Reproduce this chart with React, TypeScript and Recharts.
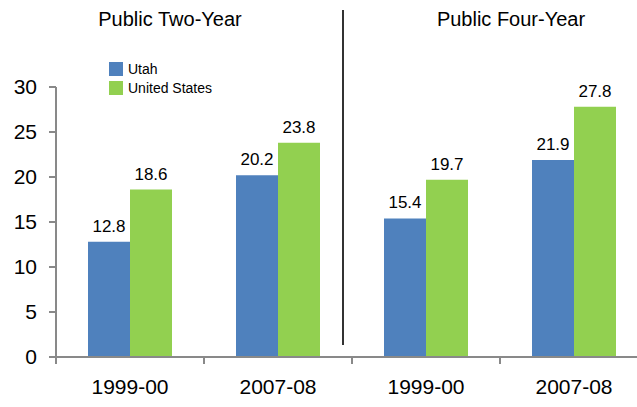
import { Bar, BarChart, LabelList, XAxis, YAxis } from 'recharts'

const categories = ['1999-00', '2007-08', '1999-00', '2007-08']
const utah = [12.8, 20.2, 15.4, 21.9]
const unitedStates = [18.6, 23.8, 19.7, 27.8]
const yTicks = [0, 5, 10, 15, 20, 25, 30]
const groupTitles = ['Public Two-Year', 'Public Four-Year']

const series = [
  { key: 'utah', name: 'Utah', color: '#4F81BD' },
  { key: 'us', name: 'United States', color: '#92D050' }
]

const data = categories.map((name, i) => ({ name, utah: utah[i], us: unitedStates[i] }))

const FONT = '"Liberation Sans", Arial, sans-serif'
const AXIS = '#898989'

function CategoryTick(props: any) {
  const { x, payload } = props
  const half = 74
  return (
    <g>
      <line x1={x - half} x2={x - half} y1={357} y2={364} stroke={AXIS} strokeWidth={2} />
      <text x={x} y={394} textAnchor="middle" fill="#000" fontSize={21} fontFamily={FONT}>
        {payload.value}
      </text>
    </g>
  )
}

export default function App() {
  return (
    <div style={{ position: 'absolute', left: 0, top: 0, width: 637, height: 407, overflow: 'hidden', background: '#fff' }}>
      <BarChart
        width={660}
        height={407}
        data={data}
        margin={{ top: 87, right: 12, left: 0, bottom: 0 }}
        barCategoryGap={32}
        barGap={0}
      >
        <XAxis
          dataKey="name"
          height={50}
          axisLine={{ stroke: AXIS, strokeWidth: 2 }}
          tickLine={false}
          tick={<CategoryTick />}
          interval={0}
        />
        <YAxis
          width={56}
          domain={[0, 30]}
          ticks={yTicks}
          interval={0}
          axisLine={{ stroke: AXIS, strokeWidth: 2 }}
          tickLine={{ stroke: AXIS, strokeWidth: 2 }}
          tickSize={7}
          tickMargin={12}
          tick={{ fill: '#000', fontSize: 21, fontFamily: FONT }}
        />
        {series.map((s) => (
          <Bar key={s.key} dataKey={s.key} name={s.name} fill={s.color} isAnimationActive={false}>
            <LabelList dataKey={s.key} position="top" offset={10} fill="#000" fontSize={17} fontFamily={FONT} />
          </Bar>
        ))}
      </BarChart>
      <div style={{ position: 'absolute', left: 109, top: 59, fontFamily: FONT, fontSize: 14, color: '#000' }}>
        {series.map((s) => (
          <div key={s.key} style={{ display: 'flex', alignItems: 'center', height: 19 }}>
            <span style={{ width: 14, height: 14, background: s.color, display: 'inline-block', marginRight: 5 }} />
            <span>{s.name}</span>
          </div>
        ))}
      </div>
      <div style={{ position: 'absolute', left: 342, top: 10, width: 1.5, height: 335, background: '#333' }} />
      <div style={{ position: 'absolute', left: 70, width: 200, top: 8, textAlign: 'center', fontFamily: FONT, fontSize: 20 }}>
        {groupTitles[0]}
      </div>
      <div style={{ position: 'absolute', left: 411, width: 200, top: 8, textAlign: 'center', fontFamily: FONT, fontSize: 20 }}>
        {groupTitles[1]}
      </div>
    </div>
  )
}
